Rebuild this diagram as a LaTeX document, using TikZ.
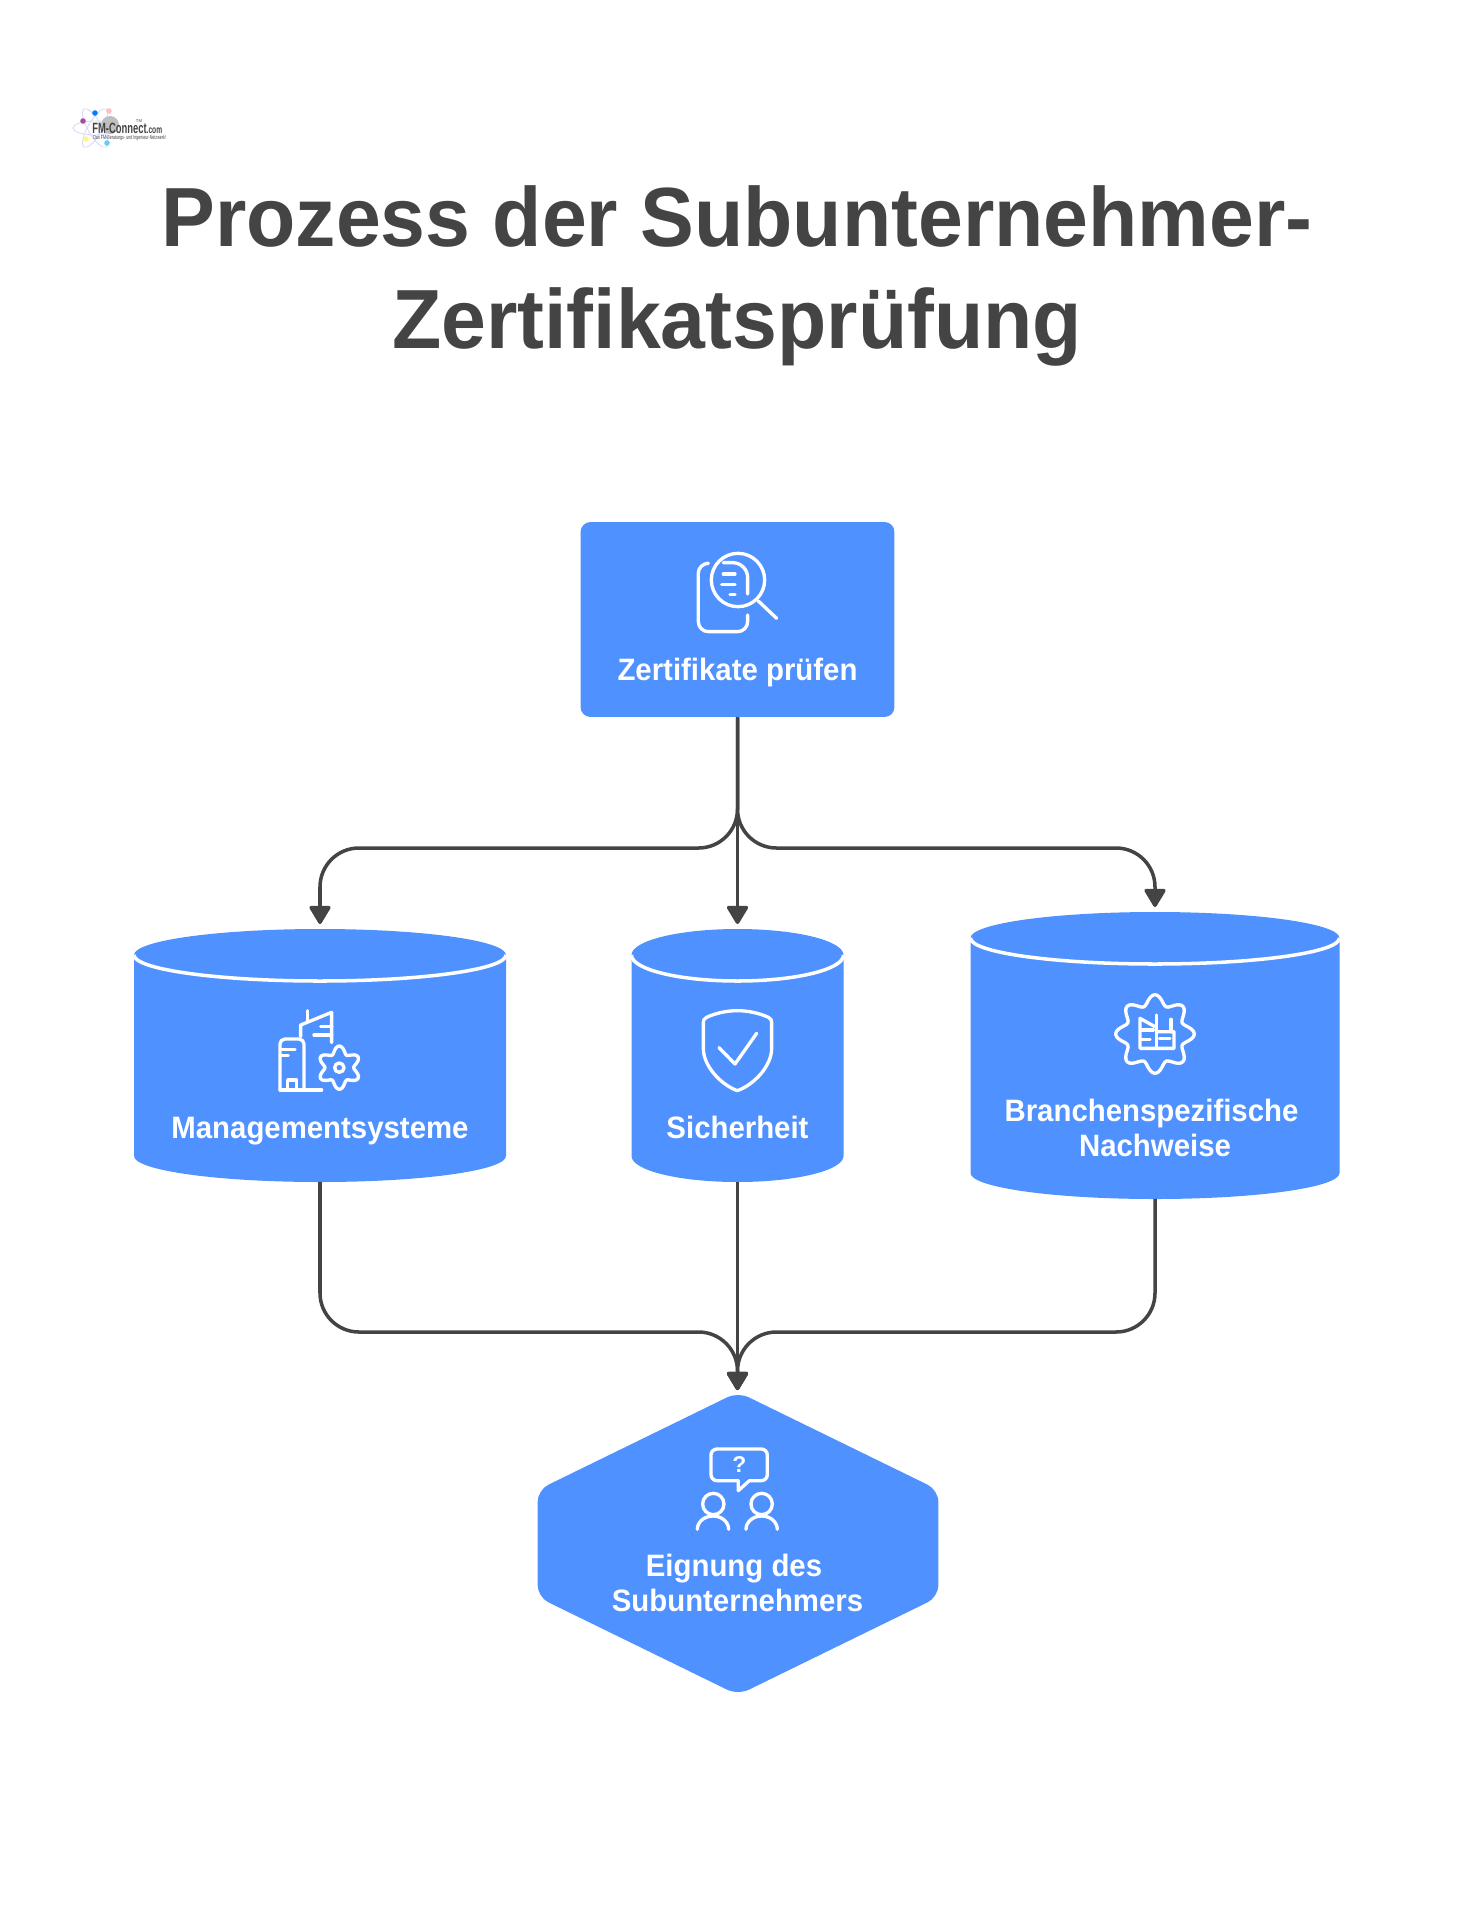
\documentclass[tikz,border=0pt]{standalone}
\usepackage{fontspec}
\usepackage{xcolor}
\setmainfont{Liberation Sans}
\newfontfamily\titlefont[FakeStretch=0.96]{Liberation Sans}
\newfontfamily\labelfont[FakeStretch=0.95]{Liberation Sans}
\newfontfamily\logofont[FakeStretch=0.63]{Liberation Sans}
\usetikzlibrary{arrows.meta}
\definecolor{boxblue}{HTML}{4F91FF}
\definecolor{inkgray}{HTML}{444444}
\tikzset{
    boxnode/.style = {rectangle, fill=boxblue, rounded corners=0.2cm, minimum width=6.28cm, minimum height=3.9cm, inner sep=0pt},
    holdnode/.style = {rectangle, inner sep=0pt, outer sep=0pt},
    boxtext/.style = {text=white, inner sep=0pt, align=center, anchor=base, font=\labelfont\bfseries\fontsize{17.6}{19.5}\selectfont},
    edge/.style = {draw=inkgray, line width=2pt, line join=round},
    edgea/.style = {edge, -{Triangle[width=0.46cm,length=0.4cm,round]}},
    rimline/.style = {draw=white, line width=2pt},
    iconline/.style = {draw=white, line width=1.9pt, line cap=round, line join=round},
    orbit/.style = {draw=black!20!blue!15, line width=0.5pt},
}
\begin{document}
\begin{tikzpicture}[x=0.02cm,y=-0.02cm]
\useasboundingbox (0,0) rectangle (1475,1920);
%
\node[font=\titlefont\bfseries\fontsize{47.8}{58}\selectfont, text=inkgray, align=center, anchor=base, inner sep=0pt] (title) at (737,348.3) {Prozess der Subunternehmer-\\Zertifikatsprüfung};
%
\node[boxnode] (check) at (737.5,619.5) {};
\node[holdnode, minimum width=7.44cm, minimum height=5.06cm] (mgmt) at (320,1055.5) {};
\node[holdnode, minimum width=4.24cm, minimum height=5.06cm] (safe) at (737.5,1055.5) {};
\node[holdnode, minimum width=7.38cm, minimum height=5.74cm] (proof) at (1155,1055.5) {};
\node[holdnode, minimum width=8.02cm, minimum height=6.06cm] (hexa) at (738,1543.5) {};
%
\foreach \cx/\rx/\ytop/\ybot in {320/186/929/1182,737.5/106/929/1182,1155/184.5/912/1199}{
    \fill[boxblue] (\cx-\rx,\ytop+26) arc[start angle=180,end angle=360,x radius=\rx,y radius=26] -- (\cx+\rx,\ybot-26) arc[start angle=0,end angle=180,x radius=\rx,y radius=26] -- cycle;
    \draw[rimline] (\cx-\rx,\ytop+26) arc[start angle=180,end angle=0,x radius=\rx,y radius=26];
}
\fill[boxblue,rounded corners=0.24cm] (hexa.north) -- (hexa.east |- 0,1490) -- (hexa.east |- 0,1597) -- (hexa.south) -- (hexa.west |- 0,1597) -- (hexa.west |- 0,1490) -- cycle;
%
\node[boxtext] (lcheck) at (737.5,680) {Zertifikate prüfen};
\node[boxtext] (lmgmt) at (320,1138) {Managementsysteme};
\node[boxtext] (lsafe) at (737.5,1138) {Sicherheit};
\node[boxtext] (lproof) at (1155,1156) {Branchenspezifische\hspace*{0.14cm}\\Nachweise};
\node[boxtext] (lhexa) at (737.5,1611) {Eignung des\hspace*{0.14cm}\\Subunternehmers};
%
\coordinate (bustop) at (737.5,848);
\coordinate (busbot) at (737.5,1332);
\draw[edgea,shorten >=0.1cm] (check.south) -- (safe.north);
\draw[edgea,shorten >=0.1cm,rounded corners=0.78cm] (check.south) -- (bustop) -| (mgmt.north);
\draw[edgea,shorten >=0.1cm,rounded corners=0.78cm] (check.south) -- (bustop) -| (proof.north);
%
\draw[edgea,shorten >=0.04cm] (safe.south) -- (bustop |- hexa.north);
\draw[edgea,shorten >=0.04cm,rounded corners=0.78cm] (mgmt.south) |- (busbot) -- (bustop |- hexa.north);
\draw[edgea,shorten >=0.04cm,rounded corners=0.78cm] (proof.south) |- (busbot) -- (bustop |- hexa.north);
%
% document and lens
\begin{scope}[shift={(560,500)},scale=0.3333,iconline]
\draw (534,240) circle (80);
\draw (595,303) -- (650,355);
\draw[rounded corners=0.2cm] (440,190) -- (415,190) -- (415,395) -- (563,395) -- (563,345);
\draw[rounded corners=0.3cm] (490,188) -- (563,188) -- (563,282);
\draw (490,222) -- (525,222);
\draw (485,253) -- (525,253);
\draw (510,283) -- (525,283);
\end{scope}
%
% towers and gear
\begin{scope}[shift={(110,890)},scale=0.3333,iconline]
\draw[rounded corners=0.1cm] (510,600) -- (510,447) -- (582,447) -- (582,600);
\draw (510,600) -- (635,600);
\draw (533,600) -- (533,570) -- (560,570) -- (560,600);
\draw (515,478) -- (555,478);
\draw (515,497) -- (535,497);
\draw (572,440) -- (572,405) -- (665,367) -- (665,458);
\draw (593,362) -- (593,393);
\draw (632,410) -- (665,410);
\draw (612,435) -- (665,435);
\draw (688,533) circle (14);
\draw plot[domain=0:360,samples=73,smooth cycle] ({688+(54+11*cos(6*\x))*sin(\x)},{533+(54+11*cos(6*\x))*cos(\x)});
\end{scope}
%
% shield
\begin{scope}[shift={(600,890)},scale=0.3333,iconline]
\draw (412,362) .. controls (380,362) and (345,370) .. (320,382) .. controls (312,386) and (310,390) .. (310,398) -- (310,475) .. controls (310,530) and (365,585) .. (412,602) .. controls (460,585) and (515,530) .. (515,475) -- (515,398) .. controls (515,390) and (513,386) .. (505,382) .. controls (480,370) and (445,362) .. (412,362) -- cycle;
\draw (357,473) -- (405,522) -- (470,430);
\end{scope}
%
% factory in gear
\begin{scope}[shift={(1100,980)},scale=0.3333,iconline]
\draw plot[domain=0:360,samples=97,smooth cycle] ({165+(103+15*cos(8*\x))*sin(\x)},{162+(103+15*cos(8*\x))*cos(\x)});
\draw (165,140) -- (120,115) -- (120,205) -- (222,205) -- (222,155) -- (170,155);
\draw (170,105) -- (170,205);
\draw (213,118) -- (213,155);
\draw (125,150) -- (160,150);
\draw (125,178) -- (150,178);
\draw (178,175) -- (210,175);
\end{scope}
%
% two people and question
\begin{scope}[shift={(520,1370)},scale=0.3333,iconline]
\draw[rounded corners=0.12cm] (655,332) -- (573,332) -- (573,237) -- (742,237) -- (742,332) -- (688,332);
\draw (688,332) -- (655,362) -- (655,332);
\draw (580,402) circle (32);
\draw (725,402) circle (32);
\draw (532,478) arc[start angle=180,end angle=360,x radius=47,y radius=40];
\draw (678,478) arc[start angle=180,end angle=360,x radius=47,y radius=40];
\node[text=white, inner sep=0pt, font=\bfseries\fontsize{13}{13}\selectfont] (ask) at (658,285) {?};
\end{scope}
%
% logo
\foreach \ang in {-60,0,60}
    \draw[orbit,rotate around={\ang:(95,128)}] (95,128) ellipse [x radius=22,y radius=7];
\fill[black!25] (110,125) circle (9);
\fill[violet!70] (83,121) circle (2.8);
\fill[blue!50!cyan] (95,113) circle (2.8);
\fill[red!25] (109,111) circle (2.8);
\fill[yellow!50] (86,139) circle (2.8);
\fill[cyan!60] (107,143) circle (2.8);
\node[text=inkgray, inner sep=0pt, anchor=base west, font=\logofont\bfseries\fontsize{8.5}{8.5}\selectfont] (logoname) at (92,133) {FM-Connect\fontsize{6}{6}\selectfont.com};
\node[text=inkgray, inner sep=0pt, anchor=base west, font=\logofont\fontsize{3.3}{3.3}\selectfont] (logosub) at (93,139.5) {Das FM-Beratungs- und Ingenieur-Netzwerk!};
\node[text=inkgray, inner sep=0pt, font=\fontsize{2.4}{2.4}\selectfont] (logotm) at (139,121) {TM};
\end{tikzpicture}
\end{document}
